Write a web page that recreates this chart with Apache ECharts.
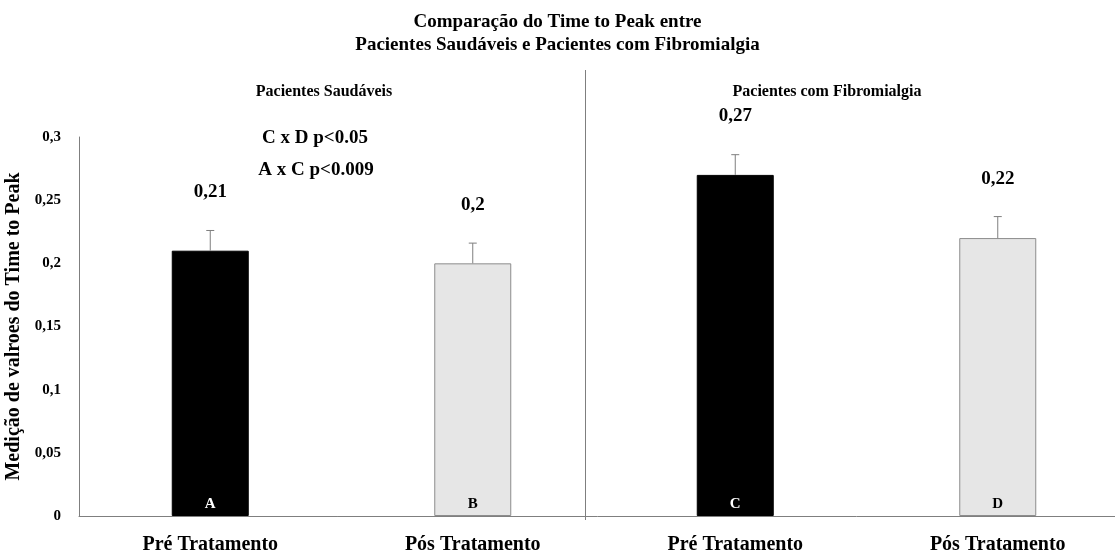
<!DOCTYPE html>
<html><head><meta charset="utf-8">
<script src="https://cdn.jsdelivr.net/npm/echarts@6/dist/echarts.min.js"></script>
<style>html,body{margin:0;padding:0;background:#fff}#c{width:1115px;height:558px}</style>
</head><body><div id="c"></div>
<script>
const categories = ['Pré Tratamento', 'Pós Tratamento', 'Pré Tratamento', 'Pós Tratamento'];
const values = [0.21, 0.2, 0.27, 0.22];
const valueLabels = ['0,21', '0,2', '0,27', '0,22'];
const errors = [0.016, 0.016, 0.016, 0.017];
const letters = ['A', 'B', 'C', 'D'];
const yTicks = [0, 0.05, 0.1, 0.15, 0.2, 0.25, 0.3];
const yTickLabels = ['0', '0,05', '0,1', '0,15', '0,2', '0,25', '0,3'];
const title = ['Comparação do Time to Peak entre', 'Pacientes Saudáveis e Pacientes com Fibromialgia'];
const panels = ['Pacientes Saudáveis', 'Pacientes com Fibromialgia'];
const notes = ['C x D p<0.05', 'A x C p<0.009'];
const yName = 'Medição de valroes do Time to Peak';

const F = '"Liberation Serif", "Times New Roman", serif';
const colors = ['#000000', '#e6e6e6', '#000000', '#e6e6e6'];

const chart = echarts.init(document.getElementById('c'));
chart.setOption({
  animation: false,
  backgroundColor: '#fff',
  textStyle: { fontFamily: F },
  title: [
    { text: title.join('\n'), left: 'center', top: 6, textStyle: { fontFamily: F, fontWeight: 'bold', fontSize: 19, color: '#000', lineHeight: 23 } },
    { text: panels[0], left: 319, textAlign: 'center', top: 79, textStyle: { fontFamily: F, fontWeight: 'bold', fontSize: 16, color: '#000' } },
    { text: panels[1], left: 822, textAlign: 'center', top: 79, textStyle: { fontFamily: F, fontWeight: 'bold', fontSize: 16, color: '#000' } }
  ],
  graphic: [
    { type: 'line', shape: { x1: 585.5, y1: 70, x2: 585.5, y2: 520 }, style: { stroke: '#7f7f7f', lineWidth: 1 } },
    { type: 'text', x: 315, y: 138, style: { text: notes[0], font: 'bold 19px ' + F, fill: '#000', align: 'center', verticalAlign: 'middle' } },
    { type: 'text', x: 316, y: 170, style: { text: notes[1], font: 'bold 19px ' + F, fill: '#000', align: 'center', verticalAlign: 'middle' } }
  ],
  grid: { left: 79, right: -14, top: 137, bottom: 42, containLabel: false, outerBoundsMode: 'none' },
  xAxis: {
    type: 'category', data: categories,
    axisLine: { lineStyle: { color: '#7f7f7f', width: 1 } },
    axisTick: { show: false },
    axisLabel: { fontFamily: F, fontWeight: 'bold', fontSize: 20, color: '#000', margin: 19 }
  },
  yAxis: {
    type: 'value', min: 0, max: 0.3, interval: 0.05,
    name: yName, nameLocation: 'middle', nameGap: 53, nameRotate: 90,
    nameTextStyle: { fontFamily: F, fontWeight: 'bold', fontSize: 20, color: '#000' },
    axisLine: { show: true, lineStyle: { color: '#7f7f7f', width: 1 } },
    axisTick: { show: false },
    splitLine: { show: false },
    axisLabel: { fontFamily: F, fontWeight: 'bold', fontSize: 15, color: '#000', margin: 18,
      formatter: v => { const i = yTicks.findIndex(t => Math.abs(t - v) < 1e-9); return i >= 0 ? yTickLabels[i] : ''; } }
  },
  series: [
    {
      type: 'bar', barWidth: 77,
      data: values.map((v, i) => ({
        value: v,
        itemStyle: { color: colors[i], borderColor: i % 2 ? '#8c8c8c' : '#000', borderWidth: 1 },
        label: { color: i % 2 ? '#000' : '#fff' }
      })),
      label: {
        show: true, position: 'insideBottom', distance: 4,
        formatter: p => letters[p.dataIndex],
        fontFamily: F, fontWeight: 'bold', fontSize: 15
      }
    },
    {
      type: 'bar', barWidth: 77, barGap: '-100%',
      data: values.map(v => ({ value: v, itemStyle: { color: 'transparent' } })),
      label: { show: true, position: 'top', distance: 49, formatter: p => valueLabels[p.dataIndex],
        fontFamily: F, fontWeight: 'bold', fontSize: 19, color: '#000' },
      silent: true, z: 1
    },
    {
      type: 'custom', z: 5,
      data: values.map((v, i) => [i, v, v + errors[i]]),
      renderItem: (params, api) => {
        const x = api.value(0);
        const p0 = api.coord([x, api.value(1)]);
        const p1 = api.coord([x, api.value(2)]);
        const cap = 4;
        return { type: 'group', children: [
          { type: 'line', shape: { x1: p0[0], y1: p0[1], x2: p1[0], y2: p1[1] }, style: { stroke: '#7f7f7f', lineWidth: 1 } },
          { type: 'line', shape: { x1: p1[0] - cap, y1: p1[1], x2: p1[0] + cap, y2: p1[1] }, style: { stroke: '#7f7f7f', lineWidth: 1 } }
        ] };
      }
    }
  ]
});
</script></body></html>
